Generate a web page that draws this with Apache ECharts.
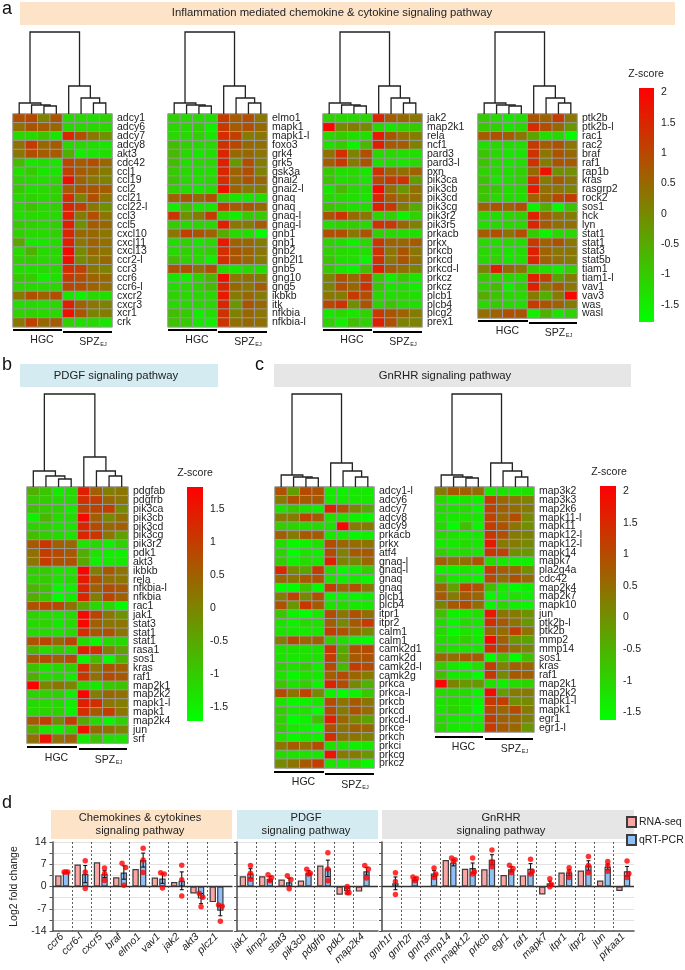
<!DOCTYPE html>
<html><head><meta charset="utf-8">
<style>html,body{margin:0;padding:0;background:#fff}#c{width:685px;height:970px}</style>
<script src="https://cdn.jsdelivr.net/npm/echarts@6/dist/echarts.min.js"></script>
</head><body><div id="c"></div>
<script>
// ---------- heat-map data (z-scores) ----------
const a1Genes=['adcy1','adcy6','adcy7','adcy8','akt3','cdc42','ccl1','ccl19','ccl2','ccl21','ccl22-l','ccl3','ccl5','cxcl10','cxcl11','cxcl13','ccr2-l','ccr3','ccr6','ccr6-l','cxcr2','cxcr3','xcr1','crk'];
const a1Z=[[.9,1,.1,.8,-1.2,-1.2,-1.3,-1.1],[.4,.8,.7,.5,-1.2,-1.2,-1.2,-1.2],[-1.2,-1.2,-.9,-1.4,1.5,.9,.3,-.1],[.4,1.2,.5,.7,-1.2,-1.2,-1.3,-1.4],[.3,.9,.7,.7,-.6,-1.5,-1.4,-1.3],[-.8,-1.4,-1.3,-1.4,1,.7,.9,.5],[-1.3,-1,-1.4,-1.4,1.1,.7,.5,.2],[-1.1,-1.2,-1.3,-1.2,1.8,.6,.3,.1],[-1,-1.3,-1.2,-1.1,.7,.8,.8,.7],[-1.2,-1.1,-1.2,-1.1,1.4,.1,.9,.3],[-1.2,-.9,-1.2,-1.1,1.5,1.1,.3,-.1],[-1.3,-1.2,-1.2,-1.2,1.6,.2,.9,.3],[-1,-1.1,-1.2,-1.1,1.6,-.1,.7,.5],[-1.1,-1.2,-1.2,-1.1,1.5,.5,.5,.3],[-.4,-1.4,-1.4,-1.3,1.6,.3,.6,.4],[-1.2,-.6,-1.2,-1.2,1.9,0,.5,.3],[-1.1,-1,-1.2,-1.2,1.8,0,.3,.5],[-1.3,-1.3,-1.2,-1.2,1.4,1.1,.3,.1],[-1,-1,-1.5,-1.3,1.2,.9,.6,.5],[-1.2,-1.2,-1.2,-1.2,1,.9,.6,.4],[.3,.9,.6,.9,-1.4,-1.6,-1.2,-1.3],[-1.3,-1.2,-1.3,-1.2,1.6,.6,.3,.1],[-1.1,-1.1,-1.2,-1.2,1.8,.8,.1,.2],[.3,1.1,.5,.7,-1.1,-1.3,-1.2,-1.4]];
const a2Genes=['elmo1','mapk1','mapk1-l','foxo3','grk4','grk5','gsk3a','gnai2','gnai2-l','gnaq','gnaq','gnaq-l','gnaq-l','gnb1','gnb1','gnb2','gnb2l1','gnb5','gng10','gng5','ikbkb','itk','nfkbia','nfkbia-l'];
const a2Z=[[-1.1,-1.2,-1.2,-1.3,1.2,.7,.9,.3],[-1.2,-1.2,-1.1,-1.5,1.2,.7,.9,.5],[-1.2,-1.2,-1.1,-1.4,1.4,1.1,.2,.3],[-.8,-1.1,-1.2,-1.2,1.3,1,.5,.4],[-.7,-1.2,-1.4,-1.3,1.5,.5,.5,.3],[-.8,-1.3,-1.2,-1.2,1.6,-.2,.9,.2],[-1,-1.2,-1.3,-1.3,1.5,.6,.9,.1],[-.9,-1.2,-1.3,-1.2,1.4,.5,.8,.5],[-1.1,-1.3,-1.4,-1.3,1.8,.6,.2,.2],[.6,.8,.5,.9,-1,-1.4,-1.4,-1.3],[-1.5,-.9,-1.4,-1.4,1.2,.7,.8,.5],[1.3,-.1,.2,1.2,-1.2,-1.5,-1,-1],[-1,-1.2,-1.2,-1.2,1.6,.3,.2,.7],[.3,1.1,.8,.6,-.5,-1.2,-1.3,-1.75],[-1.3,-1.1,-1.4,-1.2,1.7,.6,.5,.2],[-1.2,-1.1,-1.2,-1.1,1.4,.8,.6,.3],[-.8,-1.1,-1.2,-1.5,1.4,.8,.5,.2],[.8,.9,.4,.9,-1.2,-1.4,-1.2,-1.3],[-1.4,-1.5,-1.1,-.7,1.9,.3,.4,.2],[-1.3,-1.2,-1.1,-.8,1.5,.5,.3,.7],[-1.1,-1.2,-1.2,-1.2,1.7,.2,.5,.2],[-1.2,-1.2,-1.2,-1.2,1.5,-.2,.8,.5],[-.8,-1,-1.5,-1.3,1.3,.1,.5,.3],[-.9,-1,-1.4,-1.5,1.3,.4,.5,.4]];
const a3Genes=['jak2','map2k1','rela','ncf1','pard3','pard3-l','pxn','pik3ca','pik3cb','pik3cd','pik3cg','pik3r2','pik3r5','prkacb','prkx','prkcb','prkcd','prkcd-l','prkcz','prkcz','plcb1','plcb4','plcg2','prex1'];
const a3Z=[[-1.1,-1.2,-1.2,-1.2,1.5,.7,.5,.3],[2,0,.2,0,-1.2,-1.4,-1.1,-1],[-1.2,-1,-1.3,-1.3,1.7,.8,.4,.2],[-1.3,-1,-1.6,-.7,1.6,.7,.7,.1],[.4,1.4,.1,.9,-1.2,-1.2,-1.3,-1.3],[.7,1.2,.2,.8,-1.3,-1.3,-1.4,-1.2],[-1,-1.3,-1.2,-1.4,1.3,.6,.4,.6],[-.9,-1.3,-1.2,-1.4,1,1.2,1.3,-.3],[-1.4,-.7,-1.2,-1.3,1.9,.4,-.2,.4],[-1.2,-1.2,-1.3,-1.4,1.5,.7,.4,.4],[-.9,-1.1,-1.3,-1.3,1.6,1.2,.2,-.5],[.8,1.3,.5,.3,-1.2,-1.1,-1.6,-1.1],[-1.3,-1.1,-1,-1.2,1.3,1.2,.5,.1],[.9,.9,.3,.8,-1.1,-1.2,-1.3,-1.3],[-1.1,-1.3,-1.5,-1.2,1.2,.6,.5,.7],[-1.1,-1.2,-1.3,-1.3,1.3,.3,.8,.3],[-.9,-1.3,-1.3,-1.6,1.3,.3,.8,.4],[-1,-1.4,-1.6,-.8,1.6,.7,.4,.1],[.1,.9,.5,1.2,-1,-1.5,-1,-1.4],[.1,.9,.5,1.3,-1,-1.4,-1.3,-1.5],[.3,.2,1.2,.9,-1.2,-1.3,-1.2,-1.3],[1,1.3,-.1,.8,-1.1,-.9,-1.2,-1.3],[-1.4,-1.2,-1.4,-1.1,1.2,.8,.6,.2],[-1.1,-1.5,-.8,-1.1,1.6,.9,.1,.1]];
const a4Genes=['ptk2b','ptk2b-l','rac1','rac2','braf','raf1','rap1b','kras','rasgrp2','rock2','sos1','hck','lyn','stat1','stat1','stat3','stat5b','tiam1','tiam1-l','vav1','vav3','was','wasl'];
const a4Z=[[-1,-1.2,-1.4,-1.3,.8,.6,1.2,.3],[-1,-1.1,-1.4,-1.2,1.4,.9,.5,-.2],[.7,.9,.7,.3,-.4,-1.3,-1.2,-1.75],[-1.3,-1.2,-1.3,-1.3,1.2,.7,.8,.3],[-.9,-1.2,-1.4,-1.4,1.3,.3,.8,.5],[-.9,-1.2,-1.4,-1.3,1.3,.2,.8,.7],[-1.1,-1.2,-1.3,-1.1,.5,1.8,-.1,-.1],[-.9,-1.4,-1.3,-1.1,1.4,.2,.7,.3],[-.9,-1,-1.3,-1.2,1.7,.4,.3,.1],[-.9,-1.2,-1.3,-1.3,.6,.5,1,1.2],[.6,.8,.6,.9,-1.6,-.6,-1.7,-.9],[-1.2,-1.3,-1.2,-1.1,1.6,.7,.3,.2],[-1.3,-1.2,-1.2,-1.2,1.5,.7,.4,.4],[.7,.9,.4,.9,-1,-1.6,-1.2,-1.2],[-1.2,-1.3,-1.2,-1.3,1.2,.6,.8,.3],[-1.2,-1.2,-1.4,-1.3,1.6,.6,.3,.3],[-1.2,-1.1,-1.4,-1.3,1.5,.6,.4,.2],[.1,1.6,.5,.3,-1,-1.3,-1.5,-1.1],[-1,-1.1,-1.2,-1.2,1.6,1.1,-.3,.2],[-1.1,-.8,-1.5,-1.1,1.6,.3,.7,.3],[-.5,-.9,-1.2,-1.2,.2,-.6,.2,2],[-1.2,-1,-1.2,-1.3,1.2,.8,.6,.2],[.4,.6,.9,.8,-1.5,-.6,-1.4,-1.1]];
const bGenes=['pdgfab','pdgfrb','pik3ca','pik3cb','pik3cd','pik3cg','pik3r2','pdk1','akt3','ikbkb','rela','nfkbia-l','nfkbia','rac1','jak1','stat3','stat1','stat1','rasa1','sos1','kras','raf1','map2k1','map2k2','mapk1-l','mapk1','map2k4','jun','srf'];
const bZ=[[-.6,-.9,-1.4,-1.2,1.4,.5,.1,.2],[-1,-1,-1.2,-1.2,1.2,1,.4,.2],[-.9,-1,-1.1,-1.4,.9,.9,1,-.1],[-1.5,-.7,-1.2,-1.2,1.7,.5,-.1,.3],[-1.1,-1.1,-1.3,-1.3,1.3,.8,.4,.5],[-.8,-1,-1.2,-1.3,1.3,1.1,.2,-.4],[.6,1.1,.5,.4,-1.3,-1.2,-1.5,-1.1],[.3,1,.8,.6,-.6,-1.3,-1.5,-1.5],[.2,1,.7,.7,-.5,-1.5,-1.4,-1.4],[-1,-1,-1.3,-1.3,1.8,.1,.6,.2],[-1.1,-1,-1.3,-1.2,1.5,.7,.3,.2],[-.7,-.9,-1.6,-1.5,1.3,.5,.8,.6],[-.6,-.9,-1.7,-1.4,1.3,.1,.9,.5],[.7,.9,.8,.3,-.5,-1.2,-1.2,-1.7],[-1.1,-1.2,-1.3,-1.2,1.7,.9,.2,-.2],[-1.2,-1.1,-1.4,-1.2,1.7,.5,.2,.2],[-1.2,-1.2,-1.3,-1.2,1.2,.6,.7,.2],[.7,.9,.4,.9,-1.2,-1.6,-1.2,-1.2],[-.7,-1.2,-1,-1.2,1.4,1.2,.1,-.4],[.6,.8,.5,.8,-1.6,-.8,-1.7,-.7],[-.9,-1.3,-1.2,-1.1,1.2,.2,.7,.5],[-.6,-1.2,-1.2,-1.4,1.1,.3,.8,.6],[1.85,0,.2,0,-1.2,-1.4,-1,-.9],[-1.1,-1.1,-1.1,-1.5,1.8,.1,.4,.3],[-1.2,-1.2,-1.2,-1.5,1.4,1.2,.2,.1],[-1.2,-1.1,-1.1,-1.5,1.2,.6,1,.2],[.6,1,-.1,1,-.5,-1.2,-1.6,-1.1],[-.6,-1.3,-1.5,-1.1,1.6,.4,.3,0],[.3,1.6,.3,.5,-1.4,-.9,-1.3,-1.3]];
const c1Genes=['adcy1-l','adcy6','adcy7','adcy8','adcy9','prkacb','prkx','atf4','gnaq-l','gnaq-l','gnaq','gnaq','plcb1','plcb4','itpr1','itpr2','calm1','calm1','camk2d1','camk2d','camk2d-l','camk2g','prkca','prkca-l','prkcb','prkcd','prkcd-l','prkce','prkch','prkci','prkcq','prkcz'];
const c1Z=[[.9,-.2,1,.9,-1.3,-1.4,-1.3,-1.3],[.3,.9,.8,.8,-1.3,-1.3,-1.3,-1.3],[-1.2,-.8,-1.2,-1.4,1.6,.9,.1,-.4],[.3,.3,1.1,.8,-1.2,-1.2,-1.4,-1.5],[-.9,-1,-1.1,-1.1,-1.2,2,.3,.3],[.7,.3,.8,.8,-1.3,-1.3,-1.5,-1.4],[-1.1,-1.5,-1.4,-1.2,1,.6,.5,.4],[-1,-1.6,-1.2,-1.4,1,.2,.8,.8],[-.9,-1.4,-1.1,-1.3,1.6,.2,.1,.6],[1.5,.1,-.3,1.2,-1.1,-1.5,-1.3,-.9],[.6,.4,.8,.9,-1.2,-1.4,-1.3,-1.5],[-1.6,-1.6,-.8,-1.6,1.2,.6,.9,.3],[.3,1.1,.1,.9,-1.5,-1.4,-1.5,-1.4],[.9,-.1,1.3,.8,-1.2,-1.1,-1.3,-1.3],[-.8,-1.4,-1.6,-1.3,1,.4,.9,.5],[-1.2,-1.4,-1.1,-1.2,.7,.1,.8,1.2],[-1.2,-1.3,-1.3,-1.3,1.2,.9,.5,.1],[.3,1,.6,.7,-.9,-1.2,-1.5,-1.6],[-1.2,-1.2,-1.2,-1.2,1.3,-.4,.9,1],[-1.2,-1.3,-1.2,-1.2,1.2,-.2,.8,.9],[-1,-1.2,-.9,-1.4,1,-.6,1.2,1],[-1.2,-1.5,-1.2,-1.3,.7,1,.6,.3],[-.8,-1.2,-.9,-1.5,1.6,1,.1,-.5],[1,.4,1.1,.1,-1.4,-1.6,-1.4,-.8],[-1.2,-1.5,-1.4,-1.3,1,.4,.8,.4],[-.9,-1.3,-1.2,-1.6,1,.3,.9,.5],[-1,-1.6,-1.4,-.7,1.6,.6,.1,-.3],[-.9,-1.3,-1.4,-1.6,.9,.4,.7,.6],[-1.2,-1.5,-1.3,-1.4,1.4,.4,.4,.2],[.4,.8,.5,1,-1.2,-1.2,-1.4,-1.3],[-1.1,-1.2,-1.2,-1.3,1.8,.3,.3,-.1],[.1,.4,.8,1.2,-1.2,-1.3,-1.1,-1.5]];
const c2Genes=['map3k2','map3k3','map2k6','mapk11-l','mapk11','mapk12-l','mapk12-l','mapk14','mapk7','pla2g4a','cdc42','map2k4','map2k7','mapk10','jun','ptk2b-l','ptk2b','mmp2','mmp14','sos1','kras','raf1','map2k1','map2k2','mapk1-l','mapk1','egr1','egr1-l'];
const c2Z=[[.3,.8,.7,.5,-1.3,-1.2,-1.3,-1.2],[-1.1,-1.4,-1.2,-1.4,1.2,.6,.4,.2],[-1.1,-1.2,-1.1,-1.5,1.1,.7,.5,.3],[-1.2,-1.3,-1.2,-1.3,1.1,.6,1,.1],[-1.1,-1.6,-.7,-1.5,1.2,.9,.4,0],[-1.1,-1.2,-1.3,-1.3,1.3,.9,.3,.2],[-1.3,-1.3,-1.1,-1.3,1.7,.3,.3,.1],[-.9,-1.2,-1.1,-1.3,1.3,1.1,0,-.1],[.7,.4,.5,.9,-1.1,-1.3,-1.4,-1.4],[-1.4,-1.4,-1.2,-1.4,1.2,.7,.6,0],[-.8,-1.3,-1.3,-1.5,1,.5,.9,.5],[.6,-.2,1.1,.9,-.7,-1.3,-1.6,-1.4],[.8,.3,.8,.6,-1.5,-1.4,-1.2,-1.4],[.2,.8,1,.5,-1.5,-1.1,-1.4,-1.5],[-.7,-1.4,-1.3,-1.2,1.7,.4,.3,0],[-1.1,-1.5,-1.1,-1.3,1.4,.8,.4,-.1],[-1.1,-1.5,-1.2,-1.4,.6,.5,1.2,.4],[-1.1,-1.2,-.9,-1.3,1.9,.7,-.1,-.3],[-1,-1.2,-1.2,-1.3,1.4,.9,.4,.1],[.6,.5,.8,.8,-1.6,-.8,-1.6,-.7],[-.9,-1.3,-1.5,-1.2,1.2,.2,.7,.6],[-.7,-1.3,-1.2,-1.6,1.3,.1,.8,.7],[2,.2,-.1,-.1,-1.2,-1.4,-1.1,-1],[-1.1,-1.1,-1.1,-1.5,1.9,-.2,.3,.3],[-1.2,-1.1,-1.2,-1.5,1.3,1.2,0,.1],[-1.2,-1,-1.2,-1.6,1,.6,1,.3],[-1.1,-1.3,-1.3,-1.4,1.2,.7,.6,.2],[-1,-1.3,-1.3,-1.3,1.2,.8,.6,-.1]];
// dendrogram merge heights: root, HGC (outer, mid, inner), SPZ (outer, mid, inner)
const aDend=[82,11,9,8,28,16,11];
const bDend=[93,16,11,8,30,16,11];
const cDend=[93,12,10,9,24,16,10];
const zTicksA=[2,1.5,1,.5,0,-.5,-1,-1.5];
const zTicksB=[1.5,1,.5,0,-.5,-1,-1.5];
const zTicksC=[2,1.5,1,.5,0,-.5,-1,-1.5];
// ---------- fold-change data ----------
const d1Genes=['ccr6','ccr6-l','cxcr5','braf','elmo1','vav1','jak2','akt3','plcz1'];
const d1Rna=[3.5,6.9,7.6,2.9,5.5,2.8,1.4,-2.2,-4.9];
const d1Q=[4.6,3.9,3.9,4.4,8.3,2.5,1.8,-3.8,-7.6];
const d1Err=[0,2.7,1.1,2.1,2.2,1.5,2.8,1.6,1.6];
const d1Dots=[[4.6,4.6,4.6],[8.1,4.6,-.6],[5.8,4.1,1.9],[7.3,6,.4],[12,8.3,4.4],[4.3,3.9,-.5],[6.7,2.1,-3],[-2.1,-3.4,-6.4],[-5.8,-6.2,-10.9]];
const d2Genes=['jak1','timp2','stat3','pik3cb','pdgfrb','pdk1','map2k4'];
const d2Rna=[3.2,3.2,2.2,1.9,6.6,-2.6,-1.6];
const d2Q=[4.1,2.4,1.3,4.3,5.7,-1.4,4.8];
const d2Err=[1.5,.7,1.3,.7,2.6,.9,1.2];
const d2Dots=[[6.6,4.2,2.3],[3.7,2.8,1.8],[3.4,2.2,-.7],[5.4,4.2,3.9],[10.6,5.5,1.8],[0,-2,-2],[6.6,5.5,2.7]];
const d3Genes=['gnrh1r','gnrh2r','gnrh3r','mmp14','mapk12','prkcb','egr1','raf1','mapk7','itpr1','itpr2','jun','prkaa1'];
const d3Rna=[null,null,null,8.3,5.6,5.4,3.6,3.5,-2.5,4.4,5,1.9,-1.4];
const d3Q=[1,2.3,4.1,7.5,5.8,8.4,5.4,5.6,1,4.4,6.6,6.2,4.8];
const d3Err=[2,.5,.9,1,1.6,1.6,.8,1.6,.7,.9,1.5,.9,1.5];
const d3Dots=[[4.3,1.6,-2.5],[3,2.5,1.8],[5.8,3.9,2.8],[9,8.4,7.8],[9,4.6,3.9],[11.5,7.8,6.2],[6.7,5.7,4.3],[8.6,4.8,3.9],[2.4,.6,-.1],[5.9,4.6,2.8],[9.4,6.6,4.3],[7.9,6.6,4.8],[8,4.1,2.8]];

// ---------- layout ----------
const FONT='"Liberation Sans",Arial,sans-serif', INK='#222';
const RAMP=['#00ff00','#808000','#ff0000'];
const cols=['0','1','2','3','4','5','6','7'];
const heatPanels=[
 {g:a1Genes,z:a1Z,d:aDend,l:13,t:114,w:99,rh:8.87,vm:0},
 {g:a2Genes,z:a2Z,d:aDend,l:168,t:114,w:99,rh:8.87,vm:0},
 {g:a3Genes,z:a3Z,d:aDend,l:323,t:114,w:99,rh:8.87,vm:0},
 {g:a4Genes,z:a4Z,d:aDend,l:478,t:114,w:99,rh:8.87,vm:0},
 {g:bGenes,z:bZ,d:bDend,l:27,t:487,w:101,rh:8.83,vm:1},
 {g:c1Genes,z:c1Z,d:cDend,l:275,t:487,w:99,rh:8.78,vm:2},
 {g:c2Genes,z:c2Z,d:cDend,l:435,t:487,w:99,rh:8.75,vm:2}
];
const bars=[{min:-1.78,max:2.07,l:639,t:88,w:15,h:234,ticks:zTicksA,sc:[646,74]},
            {min:-1.71,max:1.83,l:187,t:487,w:16,h:234,ticks:zTicksB,sc:[195,473]},
            {min:-1.62,max:2.08,l:600,t:486,w:16,h:234,ticks:zTicksC,sc:[609,472]}];
const grid=[],xAxis=[],yAxis=[],series=[],graphic=[];
const vmSeries=[[],[],[]];
function txt(x,y,s,size,align,extra){graphic.push({type:'text',x,y,silent:true,style:Object.assign({text:s,fontSize:size,fontFamily:FONT,fill:INK,align:align||'center',verticalAlign:'middle'},extra||{})});}
function rect(x,y,w,h,fill){graphic.push({type:'rect',silent:true,shape:{x,y,width:w,height:h},style:{fill}});}

function addGrid(g,x,y){grid.push(Object.assign({containLabel:false},g));const i=grid.length-1;xAxis.push(Object.assign({gridIndex:i},x));yAxis.push(Object.assign({gridIndex:i},y));return i;}

// heat maps + dendrograms
heatPanels.forEach(p=>{
  const h=p.rh*p.g.length;
  const gi=addGrid({left:p.l,top:p.t,width:p.w,height:h},
    {type:'category',data:cols,show:false},
    {type:'category',data:p.g,inverse:true,position:'right',axisLine:{show:false},axisTick:{show:false},splitLine:{show:false},
     axisLabel:{interval:0,fontSize:10.5,color:INK,fontFamily:FONT,margin:5}});
  const data=[];p.z.forEach((row,r)=>row.forEach((v,c)=>data.push([c,r,v])));
  vmSeries[p.vm].push(series.length);
  series.push({type:'heatmap',xAxisIndex:gi,yAxisIndex:gi,data,progressive:0,silent:true,
    itemStyle:{borderColor:'#999',borderWidth:1},emphasis:{disabled:true}});
  const [root,h1,h2,h3,s1,s2,s3]=p.d;
  const H=root+1;
  const di=addGrid({left:p.l,top:p.t-H,width:p.w,height:H},
    {type:'value',min:0,max:8,show:false},{type:'value',min:0,max:H,show:false});
  // merges: x1,y1,x2,y2,top
  const hIn=3,hMid=2.25,hOut=1.375,sIn=7,sMid=6.25,sOut=5.375;
  const merges=[[2.5,0,3.5,0,h3],[1.5,0,hIn,h3,h2],[.5,0,hMid,h2,h1],
                [6.5,0,7.5,0,s3],[5.5,0,sIn,s3,s2],[4.5,0,sMid,s2,s1],
                [hOut,h1,sOut,s1,root]];
  series.push({type:'custom',xAxisIndex:di,yAxisIndex:di,coordinateSystem:'cartesian2d',silent:true,clip:false,data:merges,
    renderItem:(ps,api)=>{
      const a=api.coord([api.value(0),api.value(1)]),b=api.coord([api.value(0),api.value(4)]),
            c=api.coord([api.value(2),api.value(4)]),e=api.coord([api.value(2),api.value(3)]);
      return {type:'polyline',shape:{points:[a,b,c,e]},style:{stroke:'#222',lineWidth:1.3,fill:'none'}};
    }});
});

// colour bars: square gradient keys with tick axes
bars.forEach(b=>{
  graphic.push({type:'rect',silent:true,shape:{x:b.l,y:b.t,width:b.w,height:b.h},
    style:{fill:new echarts.graphic.LinearGradient(0,0,0,1,[{offset:0,color:RAMP[2]},{offset:.5,color:RAMP[1]},{offset:1,color:RAMP[0]}])}});
  addGrid({left:b.l+b.w-1,top:b.t,width:1,height:b.h},
    {type:'value',min:0,max:1,show:false},
    {type:'value',min:b.min,max:b.max,position:'right',axisLine:{show:false},axisTick:{show:false},splitLine:{show:false},
     axisLabel:{customValues:b.ticks,fontSize:10.5,color:INK,fontFamily:FONT,margin:7,formatter:v=>String(v)}});
  txt(b.sc[0],b.sc[1],'Z-score',10.5);
});
const visualMap=bars.map((b,i)=>({type:'continuous',show:false,min:b.min,max:b.max,seriesIndex:vmSeries[i],dimension:2,
  inRange:{color:RAMP}}));

// bar panels
const dPanels=[
 {g:d1Genes,r:d1Rna,q:d1Q,e:d1Err,p:d1Dots,l:52.5,full:180,band:19.3,yl:true},
 {g:d2Genes,r:d2Rna,q:d2Q,e:d2Err,p:d2Dots,l:237,full:141,band:19.35,yl:false},
 {g:d3Genes,r:d3Rna,q:d3Q,e:d3Err,p:d3Dots,l:382,full:252,band:19.3,yl:false}
];
const DT=842,DH=89,BW=6.4,OFF=3.8;
dPanels.forEach(p=>{
  const bg=addGrid({left:p.l,top:DT,width:p.full,height:DH},
    {type:'value',min:0,max:1,splitLine:{show:false},axisTick:{show:false},axisLabel:{show:false},
     axisLine:{show:true,onZero:false,lineStyle:{color:'#555',width:1.6}}},
    {type:'value',min:-14,max:14,interval:3.5,
     name:p.yl?'Log2 fold change':'',nameLocation:'middle',nameGap:33,nameRotate:90,nameTextStyle:{fontSize:10.5,color:INK,fontFamily:FONT},
     axisLine:{show:true,onZero:false,lineStyle:{color:'#555',width:1.6}},axisTick:{show:true,length:3,lineStyle:{color:'#555',width:1}},
     splitLine:{show:true,lineStyle:{color:'#e2e2e2',width:1}},
     axisLabel:{show:p.yl,fontSize:10.5,color:INK,fontFamily:FONT,margin:6,showMinLabel:true,showMaxLabel:true,
       formatter:v=>v%7===0?String(v):''}});
  series.push({type:'line',xAxisIndex:bg,yAxisIndex:bg,data:[[0,0],[1,0]],symbol:'none',silent:true,z:3,lineStyle:{color:'#333',width:1.3}});
  const fg=addGrid({left:p.l,top:DT,width:p.band*p.g.length,height:DH},
    {type:'category',data:p.g,axisLine:{show:false},axisTick:{show:false},
     axisLabel:{interval:0,rotate:45,fontStyle:'italic',fontSize:10.5,color:INK,fontFamily:FONT,margin:4},
     splitLine:{show:true,showMinLine:false,showMaxLine:false,interval:0,lineStyle:{color:'#333',width:.8,type:[2,2]}}},
    {type:'value',min:-14,max:14,show:false});
  const barStyle=c=>({color:c,borderColor:'#3c3c3c',borderWidth:1.2});
  series.push({type:'bar',name:'RNA-seq',xAxisIndex:fg,yAxisIndex:fg,data:p.r,barWidth:BW,barGap:'18%',itemStyle:barStyle('#fba5a5'),silent:true,z:4});
  series.push({type:'bar',name:'qRT-PCR',xAxisIndex:fg,yAxisIndex:fg,data:p.q,barWidth:BW,barGap:'18%',itemStyle:barStyle('#8dc0f7'),silent:true,z:4});
  series.push({type:'custom',xAxisIndex:fg,yAxisIndex:fg,silent:true,z:5,
    data:p.q.map((v,i)=>[i,v-p.e[i],v+p.e[i]]),
    renderItem:(ps,api)=>{
      const i=api.value(0);if(api.value(1)===api.value(2))return null;
      const lo=api.coord([i,api.value(1)]),hi=api.coord([i,api.value(2)]);const x=lo[0]+OFF;
      const st={stroke:'#111',lineWidth:1.1};
      return {type:'group',children:[
        {type:'line',shape:{x1:x,y1:lo[1],x2:x,y2:hi[1]},style:st},
        {type:'line',shape:{x1:x-2,y1:lo[1],x2:x+2,y2:lo[1]},style:st},
        {type:'line',shape:{x1:x-2,y1:hi[1],x2:x+2,y2:hi[1]},style:st}]};
    }});
  const dots=[];
  p.p.forEach((arr,i)=>arr.forEach((v,k)=>{
    const near=arr.some((o,m)=>m!==k&&Math.abs(o-v)<1.3);
    const dx=near?[-1.8,1.8,0][k]:0;
    dots.push({value:[i,v],symbolOffset:[OFF+dx,0]});
  }));
  series.push({type:'scatter',xAxisIndex:fg,yAxisIndex:fg,data:dots,symbolSize:5.5,silent:true,z:6,itemStyle:{color:'#ff0000'}});
});

// ---------- annotation: bands, titles, group bars ----------
rect(20,2,655,23,'#fde4c9');txt(332,13,'Inflammation mediated chemokine & cytokine signaling pathway',11.3);
rect(20,364,198,23,'#d3ebf1');txt(116,376,'PDGF signaling pathway',11.3);
rect(274,364,357,23,'#e6e6e6');txt(445,376,'GnRHR signaling pathway',11.3);
rect(51,810,181,29,'#fde4c9');txt(140,824.5,'Chemokines & cytokines\nsignaling pathway',11.2,'center',{lineHeight:12.5});
rect(237,810,141,29,'#d3ebf1');txt(306,824.5,'PDGF\nsignaling pathway',11.2,'center',{lineHeight:12.5});
rect(382,810,252,29,'#e6e6e6');txt(501,824.5,'GnRHR\nsignaling pathway',11.2,'center',{lineHeight:12.5});
txt(2,9,'a',18,'left',{fill:'#111'});txt(2,365,'b',18,'left',{fill:'#111'});txt(255,365,'c',18,'left',{fill:'#111'});txt(2,803,'d',18,'left',{fill:'#111'});
function groupMark(hgcX0,hgcX1,hgcBarY,spzX0,spzX1,spzBarY,hgcY,spzY){
  rect(hgcX0,hgcBarY-1,hgcX1-hgcX0,2,'#000');rect(spzX0,spzBarY-1,spzX1-spzX0,2,'#000');
  const hc=(hgcX0+hgcX1)/2+4.5, sc=(spzX0+spzX1)/2;
  txt(hc,hgcY,'HGC',10.5);
  txt(sc+2,spzY,'SPZ',10.5);
  txt(sc+16,spzY+2.5,'EJ',5.5);
}
groupMark(13,62,330,63,112,332,340,342);
groupMark(168,217,330,218,267,332,340,342);
groupMark(323,372,330,373,422,332,340,342);
groupMark(478,528,321,529,577,323,331,333);
groupMark(27,77,747,79,127,749,758,760);
groupMark(274,324,772,325,374,774,782,785);
groupMark(435,483,737,485,533,739,747,749);

echarts.init(document.getElementById('c'),null,{renderer:'canvas'}).setOption({
  animation:false,backgroundColor:'#fff',textStyle:{fontFamily:FONT},
  grid,xAxis,yAxis,series,visualMap,graphic,tooltip:{show:false},
  legend:{data:[{name:'RNA-seq',icon:'rect'},{name:'qRT-PCR',icon:'rect'}],orient:'vertical',left:626,top:816,itemWidth:9,itemHeight:10,itemGap:6,padding:0,selectedMode:false,
    textStyle:{fontSize:10.5,color:INK,fontFamily:FONT,padding:[0,0,0,-2]}}
});
</script></body></html>
